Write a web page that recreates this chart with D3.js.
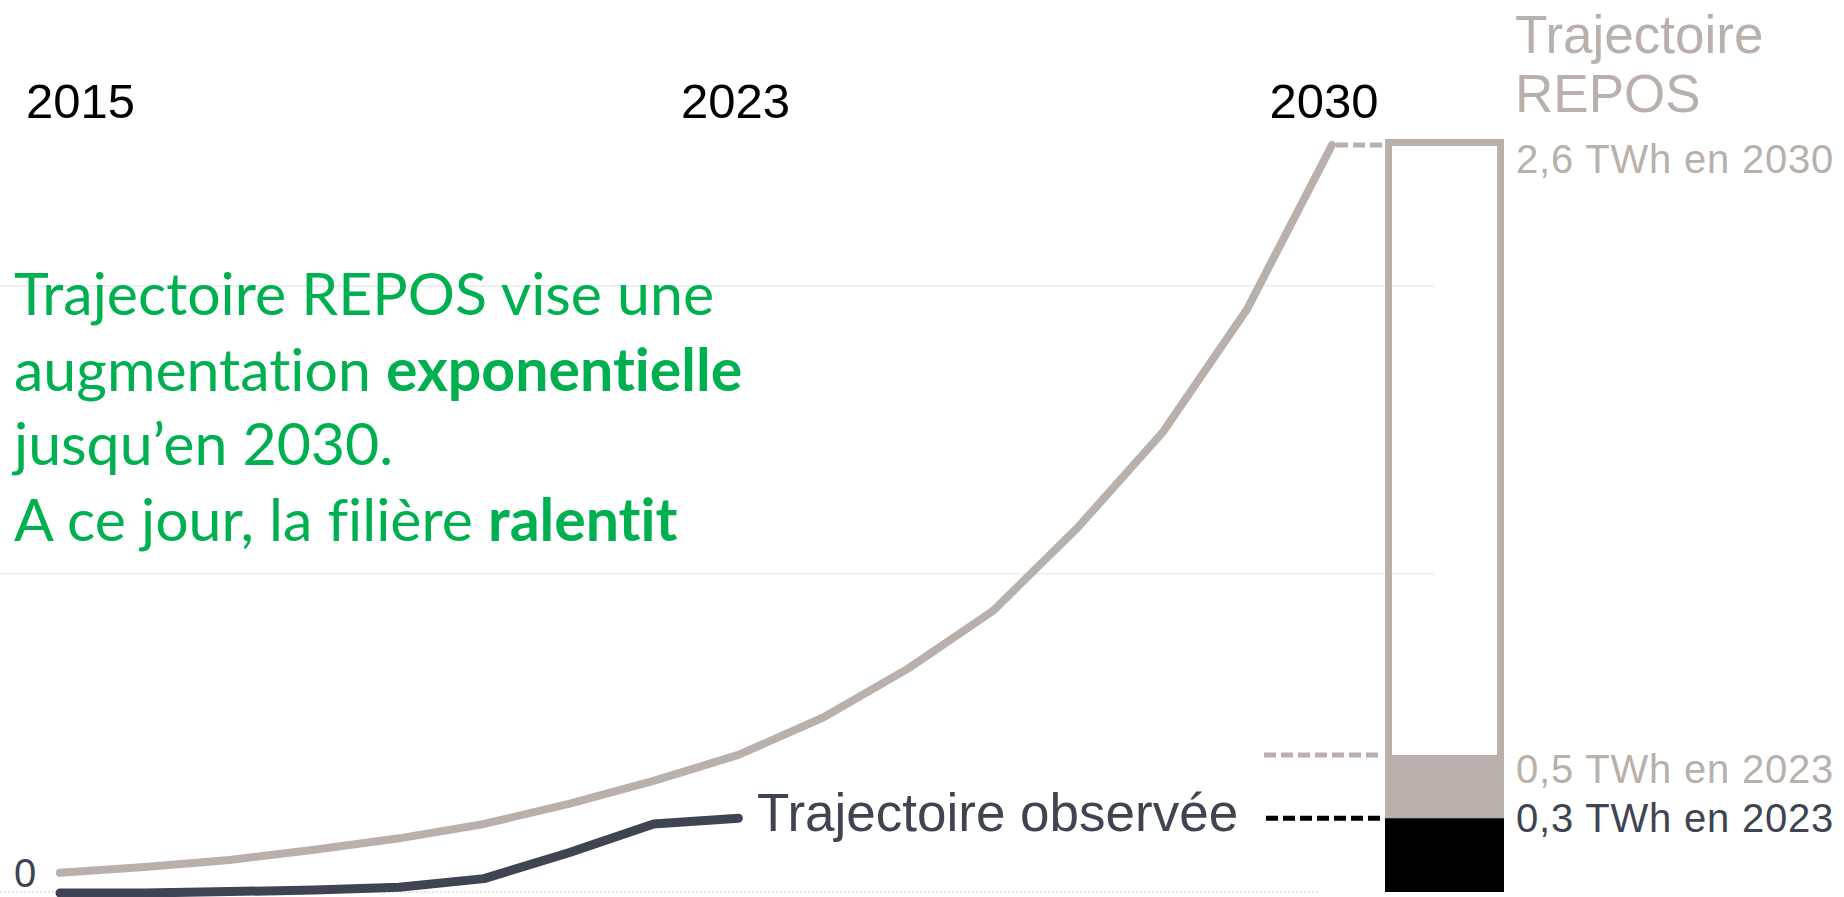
<!DOCTYPE html>
<html lang="fr">
<head>
<meta charset="UTF-8">
<title>Trajectoire REPOS</title>
<script src="https://cdn.jsdelivr.net/npm/d3@7"></script>
<style>
  body { margin: 0; background: #fff; }
  svg { display: block; }
  .sans { font-family: "Liberation Sans", Arial, sans-serif; }
  .note { font-family: Lato, "Open Sans", sans-serif; fill: #00b050; font-variant-ligatures: none; }
</style>
</head>
<body>
<script>
// data (TWh)
var years = d3.range(2015, 2031);
var repos = [0.07, 0.09, 0.115, 0.15, 0.19, 0.24, 0.31, 0.39, 0.48, 0.61, 0.78, 0.98, 1.27, 1.60, 2.03, 2.6];
var observedYears = d3.range(2015, 2024);
var observed = [0, 0, 0.005, 0.01, 0.02, 0.05, 0.14, 0.24, 0.26];
var tickYears = [2015, 2023, 2030];
var gridValues = [1.11, 2.11];
var barLabels = ["2,6 TWh en 2030", "0,5 TWh en 2023", "0,3 TWh en 2023"];

var w = 1844, h = 897;
var grey = "#b9b0ab", dark = "#3e4451";

var svg = d3.select("body").append("svg")
  .attr("width", w)
  .attr("height", h);

var x = d3.scaleLinear().domain([2015, 2030]).range([60, 1332]);
var y = d3.scaleLinear().domain([0, 2.6]).range([893, 145]);

// light grid
svg.selectAll(".grid")
  .data(gridValues)
  .enter().append("line")
  .attr("x1", 0).attr("x2", 1434)
  .attr("y1", d => y(d)).attr("y2", d => y(d))
  .attr("stroke", "#f0f0f0")
  .attr("stroke-width", 2);

// dotted baseline
svg.append("line")
  .attr("x1", 0).attr("x2", 1320)
  .attr("y1", y(0) - 1).attr("y2", y(0) - 1)
  .attr("stroke", "#dcdcdc")
  .attr("stroke-width", 1.5)
  .attr("stroke-dasharray", "2,2");

var line = d3.line()
  .x(d => x(d[0]))
  .y(d => y(d[1]));

svg.append("path")
  .datum(d3.zip(years, repos))
  .attr("d", line)
  .attr("fill", "none")
  .attr("stroke", grey)
  .attr("stroke-width", 8)
  .attr("stroke-linecap", "round")
  .attr("stroke-linejoin", "round");

svg.append("path")
  .datum(d3.zip(observedYears, observed))
  .attr("d", line)
  .attr("fill", "none")
  .attr("stroke", dark)
  .attr("stroke-width", 9)
  .attr("stroke-linecap", "round")
  .attr("stroke-linejoin", "round");

// year labels
svg.selectAll(".year")
  .data(tickYears)
  .enter().append("text")
  .attr("class", "sans")
  .attr("x", (d, i) => i == 0 ? 26 : x(d) - (i == 1 ? 3 : 8))
  .attr("y", 118)
  .attr("text-anchor", (d, i) => i == 0 ? "start" : "middle")
  .attr("font-size", 49)
  .attr("fill", "#000")
  .text(d => d);

svg.append("text")
  .attr("class", "sans")
  .attr("x", 14).attr("y", 887)
  .attr("font-size", 40)
  .attr("fill", dark)
  .text("0");

// stacked bar on the right
var barX = 1385, barW = 119;
var vRepos = repos[repos.length - 1];
var vRepos23 = repos[years.indexOf(2023)];
var vObs23 = observed[observed.length - 1];

svg.append("path")
  .attr("d", "M" + (barX + 3.5) + "," + y(vRepos23) +
             "V" + (y(vRepos) - 2.5) +
             "H" + (barX + barW - 3.5) +
             "V" + y(vRepos23))
  .attr("fill", "none")
  .attr("stroke", grey)
  .attr("stroke-width", 7);

svg.append("rect")
  .attr("x", barX).attr("width", barW)
  .attr("y", y(vRepos23)).attr("height", y(vObs23) - y(vRepos23))
  .attr("fill", grey);

svg.append("rect")
  .attr("x", barX).attr("width", barW)
  .attr("y", y(vObs23)).attr("height", y(0) - 1 - y(vObs23))
  .attr("fill", "#000");

// dashed connectors
var dashes = [
  { v: vRepos, x1: 1336, c: grey },
  { v: vRepos23, x1: 1264, c: grey },
  { v: vObs23, x1: 1266, c: "#000" }
];
svg.selectAll(".dash")
  .data(dashes)
  .enter().append("line")
  .attr("x1", d => d.x1).attr("x2", barX - 2)
  .attr("y1", d => y(d.v)).attr("y2", d => y(d.v))
  .attr("stroke", d => d.c)
  .attr("stroke-width", 5)
  .attr("stroke-dasharray", "12,5");

// bar labels
var labelY = [173, 783, 832];
var labelC = [grey, grey, dark];
svg.selectAll(".blabel")
  .data(barLabels)
  .enter().append("text")
  .attr("class", "sans")
  .attr("x", 1516)
  .attr("y", (d, i) => labelY[i])
  .attr("font-size", 40)
  .attr("letter-spacing", 0.8)
  .attr("fill", (d, i) => labelC[i])
  .text(d => d);

svg.append("text")
  .attr("class", "sans")
  .attr("x", 1515).attr("y", 53)
  .attr("font-size", 53)
  .attr("fill", grey)
  .text("Trajectoire");
svg.append("text")
  .attr("class", "sans")
  .attr("x", 1515).attr("y", 112)
  .attr("font-size", 53)
  .attr("fill", grey)
  .text("REPOS");

svg.append("text")
  .attr("class", "sans")
  .attr("x", 757).attr("y", 831)
  .attr("font-size", 53)
  .attr("fill", dark)
  .text("Trajectoire observée");

// green comment
var note = [
  [["Trajectoire REPOS vise une", false]],
  [["augmentation ", false], ["exponentielle", true]],
  [["jusqu\u2019en 2030.", false]],
  [["A ce jour, la filière ", false], ["ralentit", true]]
];
var noteY = [315, 391, 465, 541];
var t = svg.selectAll(".note")
  .data(note)
  .enter().append("text")
  .attr("class", "note")
  .attr("x", 14)
  .attr("y", (d, i) => noteY[i])
  .attr("font-size", 59);
t.selectAll("tspan")
  .data(d => d)
  .enter().append("tspan")
  .attr("font-weight", d => d[1] ? "bold" : "normal")
  .text(d => d[0]);
</script>
</body>
</html>
